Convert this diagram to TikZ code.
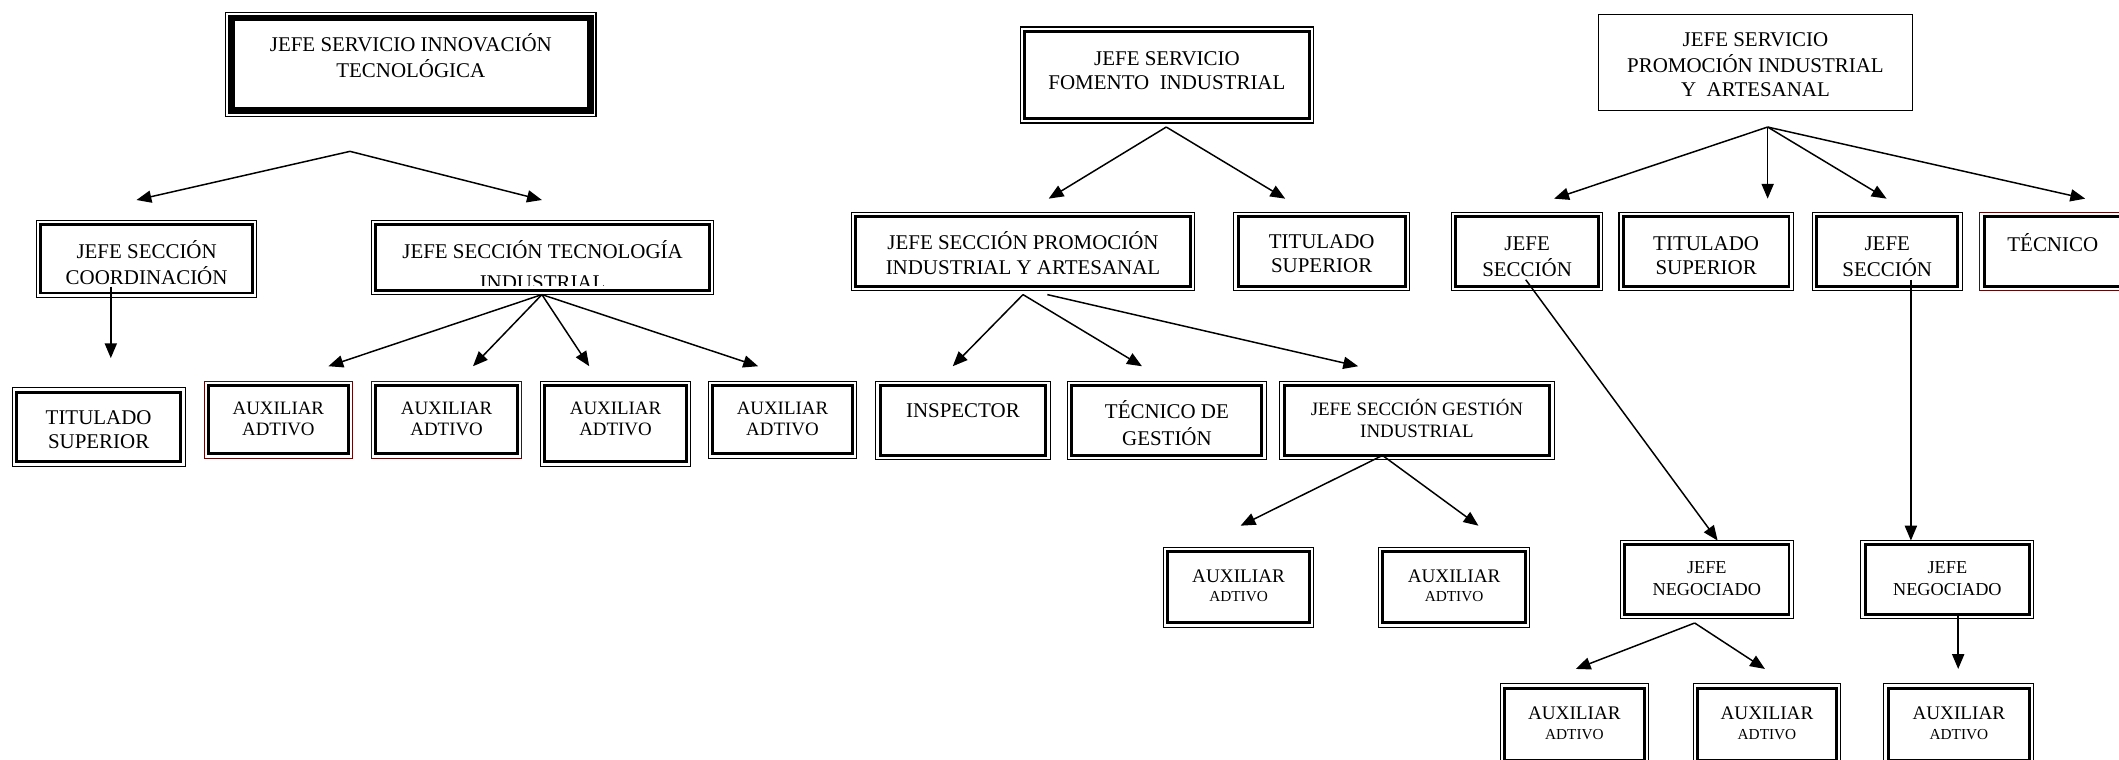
\documentclass[tikz,border=0pt]{standalone}
\usepackage{fontspec}
\setmainfont{Liberation Serif}
\usetikzlibrary{arrows.meta,calc}
\definecolor{dred}{RGB}{90,10,10}
\newcommand\fA{\fontsize{15.5}{17.8}\selectfont}
\newcommand\fB{\fontsize{14}{16}\selectfont}
\newcommand\fC{\fontsize{14.2}{14.5}\selectfont}
\newcommand\fD{\fontsize{11.3}{13}\selectfont}
\newcommand\fN{\fontsize{13.5}{16}\selectfont}
\tikzset{
  frame/.style={draw=black, line width=0.8pt, inner sep=0pt, outer sep=0pt},
  redframe/.style={frame, draw=dred},
  innerline/.style={draw=black, line width=2.2pt},
  arr/.style={-{Triangle[length=11pt,width=9pt]}, line width=1.1pt},
}
% #1 style, #2 name, #3 left, #4 top, #5 width, #6 height, #7 font, #8 cap centre of first line, #9 text
\newcommand\obox[9][frame]{%
  \node[#1] (#2) at ({#3+#5/2},{#4+#6/2}) {\parbox[c][#6pt][t]{#5pt}{#7\centering\vspace*{\dimexpr #8pt+0.33em-#4pt-0.7\baselineskip\relax}\strut #9\par}};
  \draw[innerline] ([xshift=3.2pt,yshift=-3.2pt]#2.north west) rectangle ([xshift=-3.2pt,yshift=3.2pt]#2.south east);
}
\newcommand\plainbox[9][frame]{%
  \node[#1] (#2) at ({#3+#5/2},{#4+#6/2}) {\parbox[c][#6pt][t]{#5pt}{#7\centering\vspace*{\dimexpr #8pt+0.33em-#4pt-0.7\baselineskip\relax}\strut #9\par}};
}
\begin{document}
\begin{tikzpicture}[x=1pt,y=-1pt]
\useasboundingbox (0,0) rectangle (1568,562);

% ---------- left tree ----------
\plainbox{b1}{167}{9}{274}{77}{\fA}{32}{JEFE SERVICIO INNOVACIÓN\\TECNOLÓGICA}
\draw[line width=5pt] ([xshift=4.3pt,yshift=-4.3pt]b1.north west) rectangle ([xshift=-4.3pt,yshift=4.3pt]b1.south east);

\obox{b2}{27}{163}{163}{57}{\fA}{185}{JEFE SECCIÓN\\COORDINACIÓN}
\obox{b3}{275}{163}{253}{55}{\fA}{185}{JEFE SECCIÓN TECNOLOGÍA\\[5.5pt]INDUSTRIAL}
\fill[white] ([xshift=1pt,yshift=0.6pt]b3.south west) rectangle ([xshift=-1pt,yshift=6.5pt]b3.south east);
\draw[innerline] ([xshift=3.2pt,yshift=-3.2pt]b3.north west) rectangle ([xshift=-3.2pt,yshift=3.2pt]b3.south east);

\obox{b4}{9}{287}{128}{58}{\fA}{309}{TITULADO\\SUPERIOR}
\obox[redframe]{b5}{151}{282}{110}{57}{\fB}{302}{AUXILIAR\\ADTIVO}
\obox[redframe]{b6}{275}{282}{111}{57}{\fB}{302}{AUXILIAR\\ADTIVO}
\obox{b7}{400}{282}{111}{63}{\fB}{302}{AUXILIAR\\ADTIVO}
\obox{b8}{524}{282}{110}{57}{\fB}{302}{AUXILIAR\\ADTIVO}

% ---------- middle tree ----------
\obox{b9}{755}{20}{217}{71}{\fA}{43}{JEFE SERVICIO\\FOMENTO\ \ INDUSTRIAL}
\obox{b10}{630}{157}{254}{58}{\fA}{179}{JEFE SECCIÓN PROMOCIÓN\\INDUSTRIAL Y ARTESANAL}
\obox{b11}{913}{157}{130}{58}{\fA}{179}{TITULADO\\SUPERIOR}
\obox{b12}{648}{282}{129}{58}{\fA}{304}{INSPECTOR}
\obox{b13}{790}{282}{147}{58}{\fA}{304}{TÉCNICO DE\\GESTIÓN}
\obox{b14}{947}{282}{203}{58}{\fB}{302}{JEFE SECCIÓN GESTIÓN\\INDUSTRIAL}
\obox{b15}{861}{405}{111}{59}{\fC}{426}{AUXILIAR\\{\fD ADTIVO}}
\obox{b16}{1020}{405}{112}{59}{\fC}{426}{AUXILIAR\\{\fD ADTIVO}}

% ---------- right tree ----------
\plainbox{b17}{1183}{11}{232}{71}{\fA}{29}{JEFE SERVICIO\\PROMOCIÓN INDUSTRIAL\\Y\ \ ARTESANAL}
\obox{b18}{1074}{157}{112}{58}{\fA}{180}{JEFE\\SECCIÓN}
\obox{b19}{1198}{157}{129}{58}{\fA}{180}{TITULADO\\SUPERIOR}
\obox{b20}{1341}{157}{111}{58}{\fA}{180}{JEFE\\SECCIÓN}
\obox[redframe]{b21}{1465}{157}{130}{58}{\fA}{180}{TÉCNICO\hspace*{22pt}}
\obox{b22}{1199}{400}{128}{58}{\fN}{420}{JEFE\\NEGOCIADO}
\obox{b23}{1377}{400}{128}{58}{\fN}{420}{JEFE\\NEGOCIADO}
\obox{b24}{1110}{506}{110}{60}{\fC}{528}{AUXILIAR\\{\fD ADTIVO}}
\obox{b25}{1253}{506}{109}{60}{\fC}{528}{AUXILIAR\\{\fD ADTIVO}}
\obox{b26}{1394}{506}{111}{60}{\fC}{528}{AUXILIAR\\{\fD ADTIVO}}

% ---------- connector points ----------
\coordinate (p1) at (259,112);
\coordinate (t1a) at (101,148);
\coordinate (t1b) at (401,148);
\coordinate (p2) at (82,212);
\coordinate (t2) at (82,265);
\coordinate (p3) at (401,218);
\coordinate (t3a) at (243,271);
\coordinate (t3b) at (350,271);
\coordinate (t3c) at (436,271);
\coordinate (t3d) at (561,271);
\coordinate (p4) at (863,94);
\coordinate (t4a) at (776,147);
\coordinate (t4b) at (951,147);
\coordinate (p5) at (757,218);
\coordinate (p5b) at (775,218);
\coordinate (t5a) at (705,271);
\coordinate (t5b) at (845,271);
\coordinate (t5c) at (1005,271);
\coordinate (p6) at (1023,337);
\coordinate (t6a) at (918,389);
\coordinate (t6b) at (1094,389);
\coordinate (p7) at (1308,94);
\coordinate (t7a) at (1150,147);
\coordinate (t7b) at (1308,147);
\coordinate (t7c) at (1396,147);
\coordinate (t7d) at (1543,147);
\coordinate (p8) at (1129,207);
\coordinate (t8) at (1271,400);
\coordinate (p9) at (1414,207);
\coordinate (t9) at (1414,400);
\coordinate (p10) at (1254,461);
\coordinate (t10a) at (1166,495);
\coordinate (t10b) at (1306,495);
\coordinate (p11) at (1449,456);
\coordinate (t11) at (1449,495);

% ---------- connectors ----------
\draw[arr] (p1) -- (t1a);
\draw[arr] (p1) -- (t1b);
\draw[arr] (p2) -- (t2);
\foreach \t in {t3a,t3b,t3c,t3d} \draw[arr] (p3) -- (\t);
\draw[arr] (p4) -- (t4a);
\draw[arr] (p4) -- (t4b);
\draw[arr] (p5) -- (t5a);
\draw[arr] (p5) -- (t5b);
\draw[arr] (p5b) -- (t5c);
\draw[arr] (p6) -- (t6a);
\draw[arr] (p6) -- (t6b);
\foreach \t in {t7a,t7b,t7c,t7d} \draw[arr] (p7) -- (\t);
\draw[arr] (p8) -- (t8);
\draw[arr] (p9) -- (t9);
\draw[arr] (p10) -- (t10a);
\draw[arr] (p10) -- (t10b);
\draw[arr] (p11) -- (t11);
\end{tikzpicture}
\end{document}
